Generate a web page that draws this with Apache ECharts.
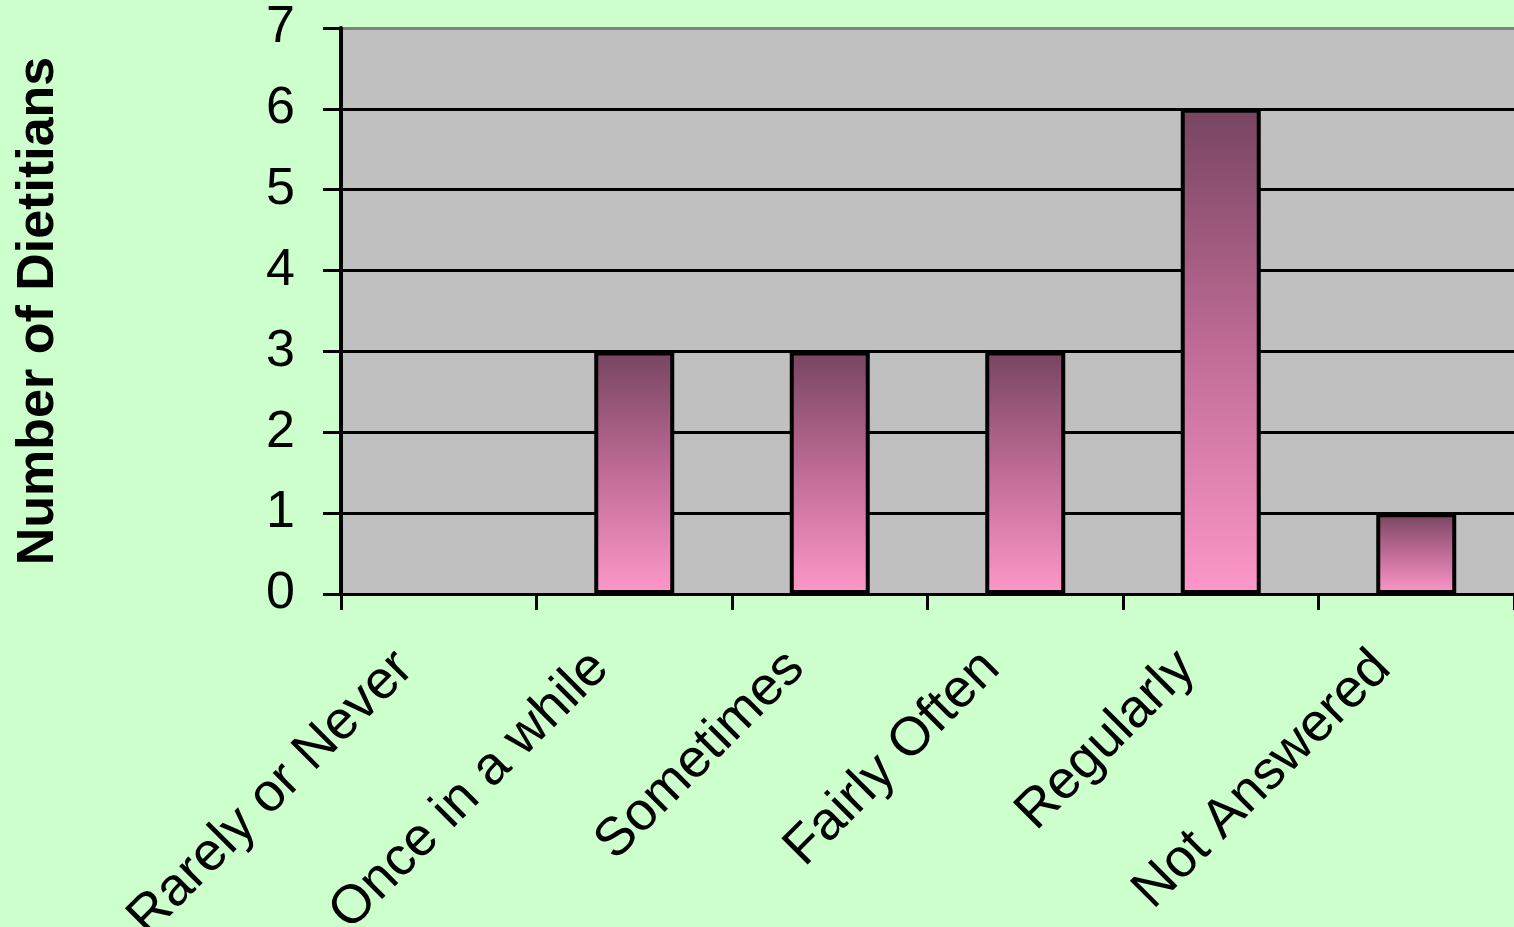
<!DOCTYPE html>
<html>
<head>
<meta charset="utf-8">
<title>Number of Dietitians</title>
<script src="https://cdn.jsdelivr.net/npm/echarts@6/dist/echarts.min.js"></script>
<style>
    html, body {
        margin: 0;
        padding: 0;
        background: #ccffcc;
    }
    #chart {
        width: 1514px;
        height: 927px;
    }
</style>
</head>
<body>
<div id="chart"></div>
<script>
const categories = ['Rarely or Never', 'Once in a while', 'Sometimes', 'Fairly Often', 'Regularly', 'Not Answered']
const counts = [0, 3, 3, 3, 6, 1]
const yTicks = [0, 1, 2, 3, 4, 5, 6, 7]

const chart = echarts.init(document.getElementById('chart'))

// empty bars get no outline
const barData = counts.map(v => v === 0 ? { value: v, itemStyle: { borderWidth: 0 } } : v)

let option = {
    backgroundColor: '#ccffcc',
    animation: false,
    textStyle: {
        fontFamily: 'Liberation Sans, Arial, sans-serif'
    },
    grid: {
        left: 341,
        top: 28,
        right: 0,
        bottom: 333,
        containLabel: false,
        outerBoundsMode: 'none',
        show: true,
        backgroundColor: '#c0c0c0',
        borderWidth: 0
    },
    xAxis: {
        type: 'category',
        data: categories,
        axisLine: {
            show: true,
            lineStyle: { color: '#000', width: 3 }
        },
        axisTick: {
            show: true,
            length: 16,
            lineStyle: { color: '#000', width: 3 }
        },
        axisLabel: {
            interval: 0,
            rotate: 45,
            margin: 32,
            padding: [0, 48, 0, 0],
            fontSize: 54,
            color: '#000'
        }
    },
    yAxis: {
        type: 'value',
        min: yTicks[0],
        max: yTicks[yTicks.length - 1],
        interval: 1,
        name: 'Number of Dietitians',
        nameLocation: 'middle',
        nameRotate: 90,
        nameGap: 276,
        nameTextStyle: {
            fontSize: 52,
            fontWeight: 'bold',
            color: '#000'
        },
        axisLine: {
            show: true,
            lineStyle: { color: '#000', width: 4 }
        },
        axisTick: {
            show: true,
            length: 18,
            lineStyle: { color: '#000', width: 3 }
        },
        axisLabel: {
            margin: 46,
            fontSize: 52,
            color: '#000'
        },
        splitLine: {
            show: true,
            lineStyle: {
                color: ['#000', '#000', '#000', '#000', '#000', '#000', '#000', '#808080'],
                width: 3
            }
        }
    },
    series: [
        {
            type: 'bar',
            data: barData,
            barWidth: 80,
            itemStyle: {
                borderColor: '#000',
                borderWidth: 4,
                color: new echarts.graphic.LinearGradient(0, 0, 0, 1, [{
                    offset: 0,
                    color: '#774560'
                }, {
                    offset: 0.5,
                    color: '#c06c96'
                }, {
                    offset: 1,
                    color: '#fd98c9'
                }])
            }
        }
    ]
}
chart.setOption(option, true)
</script>
</body>
</html>
